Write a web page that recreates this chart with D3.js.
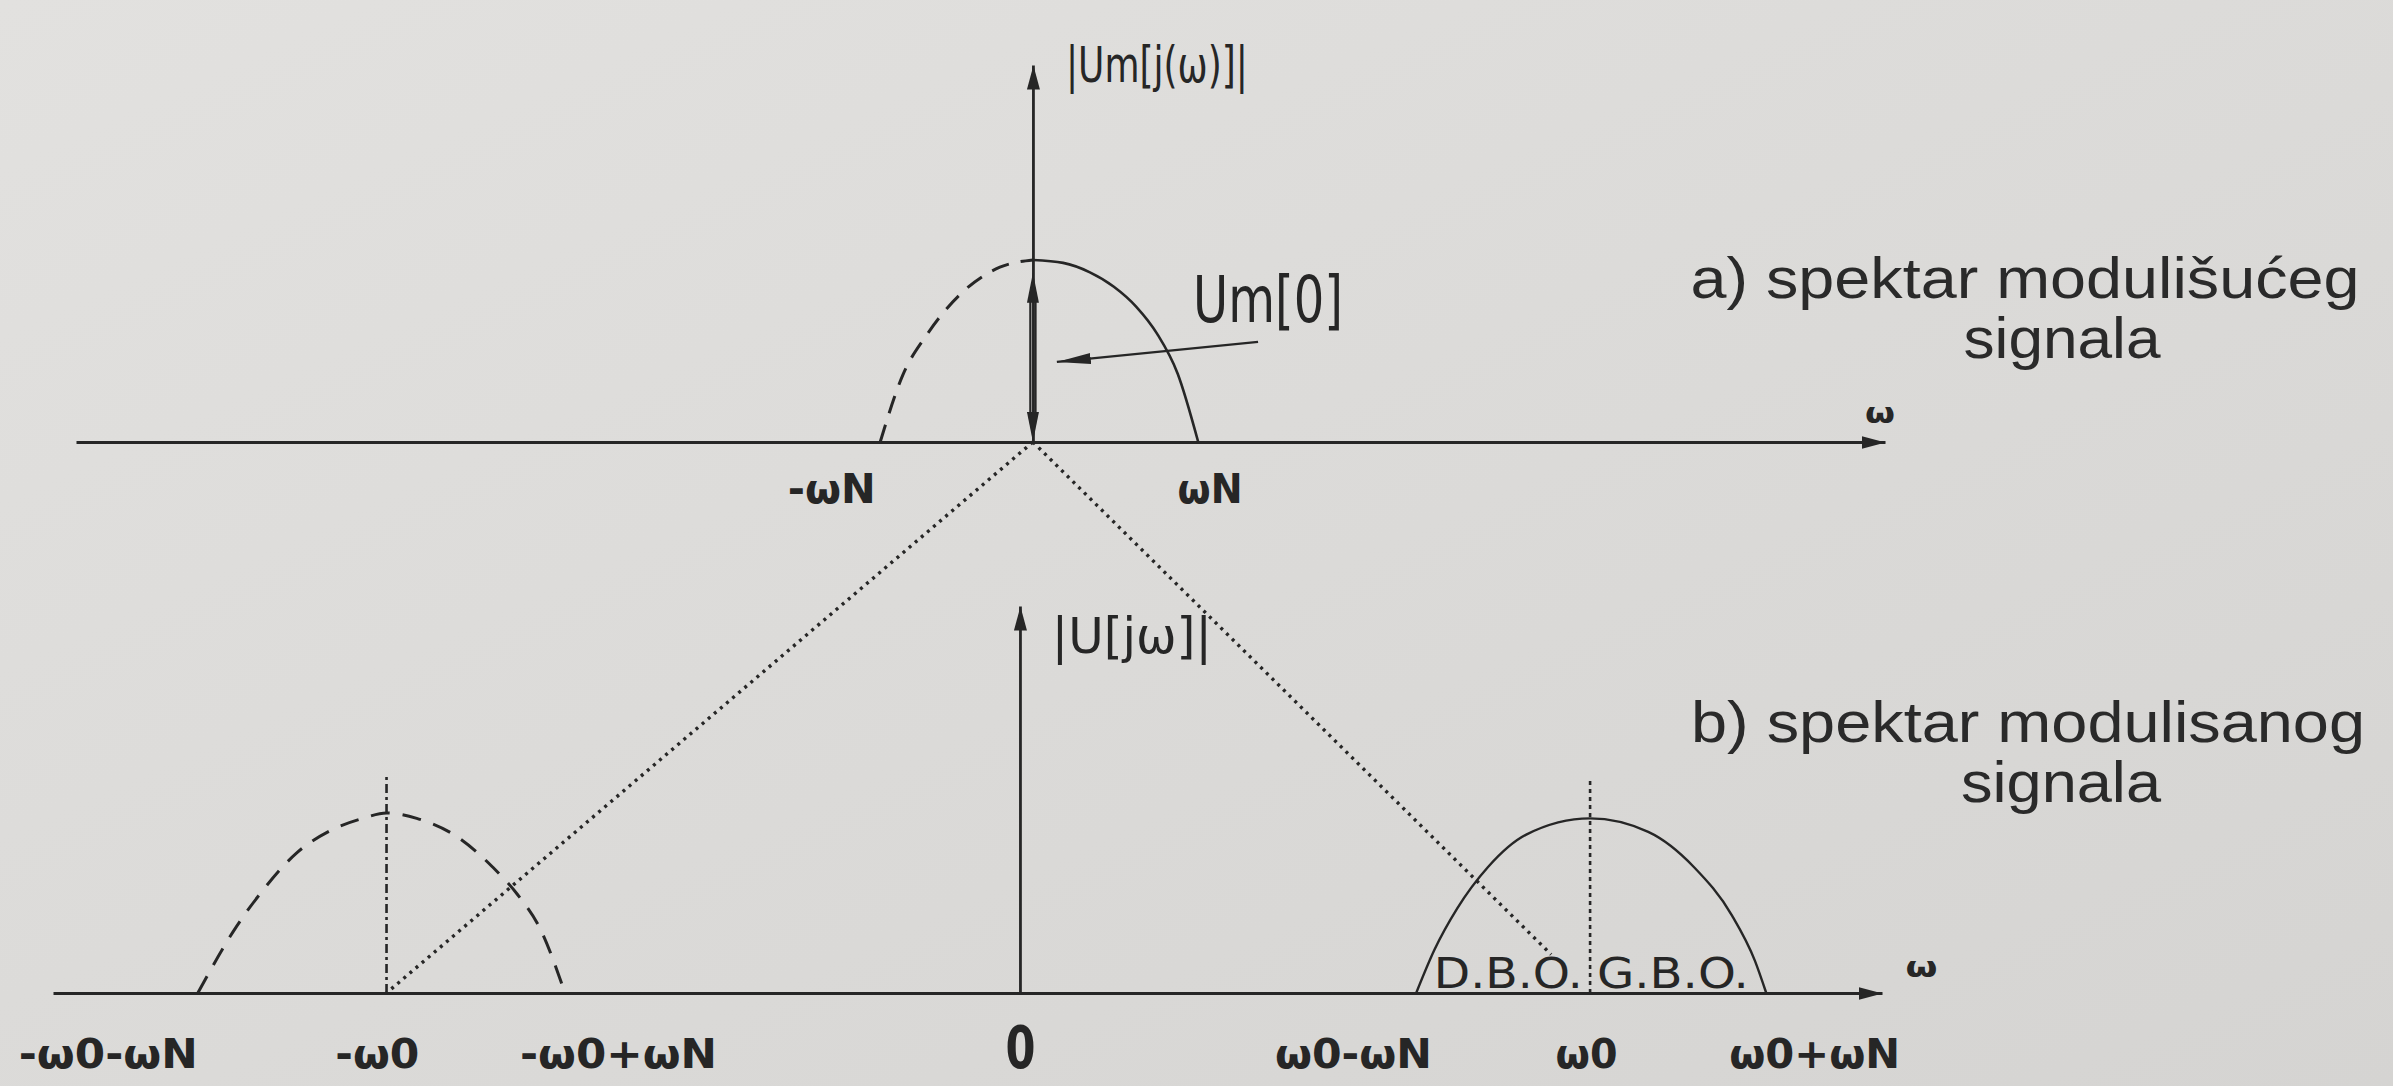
<!DOCTYPE html>
<html>
<head>
<meta charset="utf-8">
<script src="https://cdn.jsdelivr.net/npm/d3@7"></script>
<style>
    html, body {margin: 0; padding: 0; background: #dcdbd9; overflow: hidden;}
    svg {display: block;}
</style>
</head>
<body>
<svg id="fig" width="2393" height="1086"></svg>
<script>
// spektar modulišućeg (a) i modulisanog (b) signala
// x: ω u jedinicama ω0, y: relativna amplituda |U|

// a) spektar modulišućeg signala
var aNeg = [[-0.268, 0], [-0.228, 0.37], [-0.186, 0.59], [-0.128, 0.81], [-0.058, 0.96], [0, 1]]; // isprekidano
var aPos = [[0, 1], [0.053, 0.984], [0.10, 0.932], [0.142, 0.853], [0.181, 0.744], [0.218, 0.594], [0.254, 0.375], [0.29, 0]]; // puna linija
var aTickNames = ["-ωN", "ωN"];
var aTickVals = [-0.354, 0.31];

// b) spektar modulisanog signala
var bLeft = [[-1.442, 0], [-1.374, 0.37], [-1.328, 0.57], [-1.268, 0.78], [-1.211, 0.90], [-1.153, 0.97], [-1.111, 1.0],
             [-1.058, 0.97], [-0.988, 0.87], [-0.925, 0.70], [-0.882, 0.55], [-0.842, 0.36], [-0.798, 0]];
var bRight = [[0.695, 0], [0.727, 0.24], [0.767, 0.47], [0.821, 0.70], [0.888, 0.88], [1.0, 0.97],
              [1.102, 0.895], [1.182, 0.70], [1.249, 0.43], [1.289, 0.18], [1.309, 0]];
var carrierX = [-1.111, 1.0];
var carrierTop = [1.22, 1.18];
var bTickNames = ["-ω0-ωN", "-ω0", "-ω0+ωN", "0", "ω0-ωN", "ω0", "ω0+ωN"];
var bTickVals = [-1.60, -1.128, -0.705, 0.0, 0.584, 0.993, 1.393];
var bandNames = ["D.B.O.", "G.B.O."];
var bandStart = [0.726, 1.012];

// raspored
var W = 2393, H = 1086, ink = "#262626";
var mathFont = "'Liberation Sans Narrow', 'DejaVu Sans Condensed', sans-serif";
var tickW = {"-ωN": 88, "ωN": 65, "-ω0-ωN": 179, "-ω0": 84, "-ω0+ωN": 197, "0": 30, "ω0-ωN": 157, "ω0": 62, "ω0+ωN": 171};

var svg = d3.select("#fig");
var defs = svg.append("defs");

var paper = defs.append("linearGradient").attr("id", "paper")
    .attr("x1", 0).attr("y1", 0).attr("x2", 1).attr("y2", 1);
paper.append("stop").attr("offset", 0).attr("stop-color", "#e2e1df");
paper.append("stop").attr("offset", 1).attr("stop-color", "#d5d4d2");
svg.append("rect").attr("width", W).attr("height", H).attr("fill", "url(#paper)");

// strelice
function head(id, len, wid) {
    defs.append("marker").attr("id", id)
        .attr("viewBox", "0 0 " + len + " " + wid)
        .attr("refX", len).attr("refY", wid / 2)
        .attr("markerWidth", len).attr("markerHeight", wid)
        .attr("markerUnits", "userSpaceOnUse")
        .attr("orient", "auto-start-reverse")
        .append("path").attr("d", "M0,0L" + len + "," + (wid / 2) + "L0," + wid + "Z")
        .attr("fill", ink);
}
head("axisHead", 24, 13);
head("ptrHead", 34, 11);
head("dblHead", 30, 12);

// skale
var xA = d3.scaleLinear().domain([-1.679, 1.495]).range([76, 1885]),
    yA = d3.scaleLinear().domain([0, 2.071]).range([442, 65]),
    xB = d3.scaleLinear().domain([-1.696, 1.512]).range([53, 1882]),
    yB = d3.scaleLinear().domain([0, 2.15]).range([993, 606]);

var lineA = d3.line().x(function(d){return xA(d[0])}).y(function(d){return yA(d[1])}).curve(d3.curveMonotoneX),
    lineB = d3.line().x(function(d){return xB(d[0])}).y(function(d){return yB(d[1])}).curve(d3.curveMonotoneX);

/*
 * ose
 */
function hAxis(x, y, names, vals, base) {
    var g = svg.append("g").attr("transform", "translate(0," + y(0) + ")")
        .call(d3.axisBottom(x).tickValues(vals).tickSizeInner(0).tickSizeOuter(0)
            .tickFormat(function(d, i){return names[i]}));
    g.select(".domain").attr("stroke", ink).attr("stroke-width", 3.2).attr("marker-end", "url(#axisHead)");
    g.selectAll(".tick line").remove();
    g.selectAll(".tick text")
        .attr("y", base).attr("dy", null)
        .attr("fill", ink)
        .style("font-family", mathFont).style("font-weight", "bold")
        .style("font-size", function(d, i){return names[i] === "0" ? "58px" : "40px"})
        .attr("textLength", function(d, i){return tickW[names[i]]})
        .attr("lengthAdjust", "spacingAndGlyphs");
    return g;
}
function vAxis(x, y) {
    var g = svg.append("g").attr("transform", "translate(" + x(0) + ",0)")
        .call(d3.axisLeft(y).tickValues([]).tickSizeOuter(0));
    g.select(".domain").attr("stroke", ink).attr("stroke-width", 2.8).attr("marker-end", "url(#axisHead)");
    return g;
}

hAxis(xA, yA, aTickNames, aTickVals, 61);
vAxis(xA, yA);
hAxis(xB, yB, bTickNames, bTickVals, 75);
vAxis(xB, yB);

// oznake osa
function mathText(x, y, t, size, w) {
    return svg.append("text").attr("x", x).attr("y", y).text(t)
        .attr("fill", ink).style("font-family", mathFont).style("font-size", size + "px")
        .attr("textLength", w).attr("lengthAdjust", "spacingAndGlyphs");
}
mathText(xA(0.058), yA(1.98), "|Um[j(ω)]|", 50, 182);
mathText(xB(0.056), yB(1.89), "|U[jω]|", 50, 160);
mathText(xA(0.281), yA(0.66), "Um[0]", 64, 150);
mathText(xA(1.46), yA(0.105), "ω", 28, 30).style("font-weight", "bold");
mathText(xB(1.553), yB(0.09), "ω", 28, 32).style("font-weight", "bold");

/*
 * a) spektar modulišućeg signala
 */
svg.append("path").datum(aNeg).attr("d", lineA)
    .attr("fill", "none").attr("stroke", ink).attr("stroke-width", 3).attr("stroke-dasharray", "18,12");
svg.append("path").datum(aPos).attr("d", lineA)
    .attr("fill", "none").attr("stroke", ink).attr("stroke-width", 2.6);

// Um[0] dvostruka strelica
var dbl = [0, 0.93];
[-2.6, 2.6].forEach(function(o){
    svg.append("line")
        .attr("x1", xA(0) + o).attr("x2", xA(0) + o)
        .attr("y1", yA(dbl[0]) - 26).attr("y2", yA(dbl[1]) + 26)
        .attr("stroke", ink).attr("stroke-width", 2.2);
});
svg.append("line")
    .attr("x1", xA(0)).attr("x2", xA(0)).attr("y1", yA(dbl[0])).attr("y2", yA(dbl[1]))
    .attr("stroke", "none")
    .attr("marker-start", "url(#dblHead)").attr("marker-end", "url(#dblHead)");

// pokazivač na Um[0]
svg.append("line")
    .attr("x1", xA(0.395)).attr("y1", yA(0.55)).attr("x2", xA(0.042)).attr("y2", yA(0.44))
    .attr("stroke", ink).attr("stroke-width", 2.4).attr("marker-end", "url(#ptrHead)");

/*
 * b) spektar modulisanog signala
 */
svg.append("path").datum(bLeft).attr("d", lineB)
    .attr("fill", "none").attr("stroke", ink).attr("stroke-width", 3).attr("stroke-dasharray", "19,13");
svg.append("path").datum(bRight).attr("d", lineB)
    .attr("fill", "none").attr("stroke", ink).attr("stroke-width", 2.4);

svg.selectAll(".carrier").data(carrierX).enter().append("line")
    .attr("class", "carrier")
    .attr("x1", function(d){return xB(d)}).attr("x2", function(d){return xB(d)})
    .attr("y1", yB(0)).attr("y2", function(d, i){return yB(carrierTop[i])})
    .attr("stroke", ink).attr("stroke-width", 2.6)
    .attr("stroke-dasharray", function(d, i){return i === 0 ? "9,4,3,4" : "4,4"});

// D.B.O. / G.B.O.
svg.selectAll(".band").data(bandNames).enter().append("text")
    .attr("class", "band")
    .attr("x", function(d, i){return xB(bandStart[i])}).attr("y", yB(0.028))
    .text(function(d){return d})
    .attr("fill", ink).style("font-family", mathFont).style("font-size", "43px")
    .attr("textLength", function(d, i){return i === 0 ? 149 : 152})
    .attr("lengthAdjust", "spacingAndGlyphs");

// tačkaste veze a) -> b)
svg.append("line")
    .attr("x1", xA(0)).attr("y1", yA(0)).attr("x2", xB(carrierX[0])).attr("y2", yB(0))
    .attr("stroke", ink).attr("stroke-width", 3.4).attr("stroke-dasharray", "3,5");
var toRight = d3.interpolate([xA(0), yA(0)], [xB(carrierX[1]), yB(0)])(0.93);
svg.append("line")
    .attr("x1", xA(0)).attr("y1", yA(0)).attr("x2", toRight[0]).attr("y2", toRight[1])
    .attr("stroke", ink).attr("stroke-width", 3.4).attr("stroke-dasharray", "3,5");

/*
 * natpisi
 */
var titles = [
    {t: "a) spektar modulišućeg", x: 2025, y: 298, w: 669},
    {t: "signala", x: 2062, y: 358, w: 197},
    {t: "b) spektar modulisanog", x: 2028, y: 742, w: 674},
    {t: "signala", x: 2061, y: 802, w: 200}
];
svg.selectAll(".title").data(titles).enter().append("text")
    .attr("class", "title")
    .attr("x", function(d){return d.x}).attr("y", function(d){return d.y})
    .attr("text-anchor", "middle")
    .text(function(d){return d.t})
    .attr("fill", "#2a2a2a")
    .style("font-family", "'Liberation Sans', Arial, sans-serif").style("font-size", "57px")
    .attr("textLength", function(d){return d.w}).attr("lengthAdjust", "spacingAndGlyphs");
</script>
</body>
</html>
